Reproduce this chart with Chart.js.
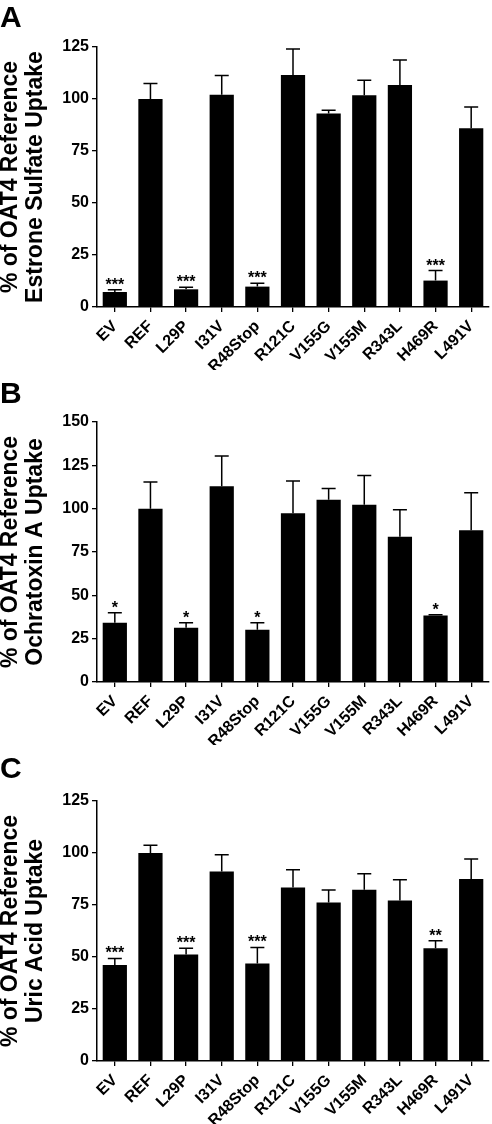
<!DOCTYPE html>
<html>
<head>
<meta charset="utf-8">
<script src="https://cdn.jsdelivr.net/npm/chart.js@4.4.1/dist/chart.umd.min.js"></script>
<style>
  body { margin: 0; background: #fff; }
  .panel { position: absolute; left: 0; width: 492px; height: 370px; }
  .letter { position: absolute; left: 0; font: bold 30px "Liberation Sans", Arial, sans-serif; color: #000; }
</style>
</head>
<body>
<div class="panel" style="top:0px"><canvas id="chartA" width="492" height="370"></canvas></div>
<div class="panel" style="top:375px"><canvas id="chartB" width="492" height="370"></canvas></div>
<div class="panel" style="top:754px"><canvas id="chartC" width="492" height="370"></canvas></div>
<div class="letter" style="top:0px">A</div>
<div class="letter" style="top:376px">B</div>
<div class="letter" style="top:751px">C</div>
<script>
// Categories (same for all three panels)
const variants = ['EV', 'REF', 'L29P', 'I31V', 'R48Stop', 'R121C', 'V155G', 'V155M', 'R343L', 'H469R', 'L491V'];

// Panel A: estrone sulfate uptake (mean, SEM)
const estroneMean = [7.2, 100, 8.5, 102, 9.8, 111.5, 93, 101.8, 106.7, 12.7, 85.9];
const estroneErr  = [1.1, 7.5, 1.0, 9.3, 1.6, 12.5, 1.6, 7.2, 12.1, 4.8, 10.3];
const estroneStars = ['***', '', '***', '', '***', '', '', '', '', '***', ''];
const estroneTicks = [0, 25, 50, 75, 100, 125];

// Panel B: ochratoxin A uptake
const ochraMean = [34.2, 100, 31.3, 112.9, 30.2, 97.3, 105.2, 102.3, 83.8, 38.3, 87.5];
const ochraErr  = [5.8, 15.4, 2.9, 17.5, 4.0, 18.7, 6.5, 16.9, 15.6, 0.5, 21.7];
const ochraStars = ['*', '', '*', '', '*', '', '', '', '', '*', ''];
const ochraTicks = [0, 25, 50, 75, 100, 125, 150];

// Panel C: uric acid uptake
const uricMean = [46.2, 100, 51.2, 91.1, 46.9, 83.4, 76.2, 82.3, 77.2, 54.2, 87.5];
const uricErr  = [3.1, 3.7, 3.0, 8.1, 7.7, 8.5, 6.0, 7.7, 9.9, 3.6, 9.6];
const uricStars = ['***', '', '***', '', '***', '', '', '', '', '**', ''];
const uricTicks = [0, 25, 50, 75, 100, 125];

const FONT = '"Liberation Sans", Arial, sans-serif';

// draws the upper error bar and the significance stars over each bar
const errorBarPlugin = {
    id: 'errorBars',
    afterDatasetsDraw(chart, args, opts) {
        const ctx = chart.ctx;
        const yScale = chart.scales.y;
        const meta = chart.getDatasetMeta(0);
        ctx.save();
        ctx.strokeStyle = '#000';
        ctx.lineWidth = 1.5;
        meta.data.forEach((bar, i) => {
            const x = bar.x;
            const yBar = yScale.getPixelForValue(opts.mean[i]);
            const yTop = yScale.getPixelForValue(opts.mean[i] + opts.err[i]);
            ctx.beginPath();
            ctx.moveTo(x, yBar);
            ctx.lineTo(x, yTop);
            ctx.moveTo(x - 7, yTop);
            ctx.lineTo(x + 7, yTop);
            ctx.stroke();
            if (opts.stars[i]) {
                ctx.fillStyle = '#000';
                ctx.font = 'bold 16px ' + FONT;
                ctx.textAlign = 'center';
                ctx.textBaseline = 'alphabetic';
                ctx.fillText(opts.stars[i], x, yTop);
            }
        });
        ctx.restore();
    }
};

function makePanel(id, mean, err, stars, ticks, titleLines) {
    const ctx = document.getElementById(id).getContext('2d');
    const yMax = ticks[ticks.length - 1];
    return new Chart(ctx, {
        type: 'bar',
        data: {
            labels: variants,
            datasets: [{
                data: mean,
                backgroundColor: '#000',
                borderWidth: 0,
                barPercentage: 0.68,
                categoryPercentage: 1.0
            }]
        },
        options: {
            responsive: false,
            animation: false,
            layout: { padding: { top: 47, right: 3, left: 0, bottom: 0 } },
            plugins: {
                legend: { display: false },
                tooltip: { enabled: false },
                errorBars: { mean: mean, err: err, stars: stars }
            },
            scales: {
                x: {
                    grid: { display: true, drawOnChartArea: false, offset: false, tickLength: 5, tickColor: '#000', lineWidth: 1.3 },
                    border: { display: true, color: '#000', width: 1.5 },
                    ticks: {
                        color: '#000',
                        font: { family: FONT, size: 16, weight: 'bold' },
                        minRotation: 45,
                        maxRotation: 45,
                        autoSkip: false,
                        padding: 5
                    },
                    afterFit: (scale) => { scale.height = 63; }
                },
                y: {
                    min: 0,
                    max: yMax,
                    afterBuildTicks: (scale) => { scale.ticks = ticks.map(v => ({ value: v })); },
                    grid: { display: true, drawOnChartArea: false, tickLength: 5, tickColor: '#000', lineWidth: 1.3 },
                    border: { display: true, color: '#000', width: 1.5 },
                    ticks: {
                        color: '#000',
                        font: { family: FONT, size: 16, weight: 'bold' },
                        padding: 3
                    },
                    title: {
                        display: true,
                        text: titleLines,
                        color: '#000',
                        font: { family: FONT, size: 23, weight: 'bold', lineHeight: 1.09 },
                        padding: { top: -1.5, bottom: 0 }
                    },
                    afterFit: (scale) => { scale.width = 97; }
                }
            }
        },
        plugins: [errorBarPlugin]
    });
}

makePanel('chartA', estroneMean, estroneErr, estroneStars, estroneTicks, ['% of OAT4 Reference', 'Estrone Sulfate Uptake']);
makePanel('chartB', ochraMean, ochraErr, ochraStars, ochraTicks, ['% of OAT4 Reference', 'Ochratoxin A Uptake']);
makePanel('chartC', uricMean, uricErr, uricStars, uricTicks, ['% of OAT4 Reference', 'Uric Acid Uptake']);
</script>
</body>
</html>
